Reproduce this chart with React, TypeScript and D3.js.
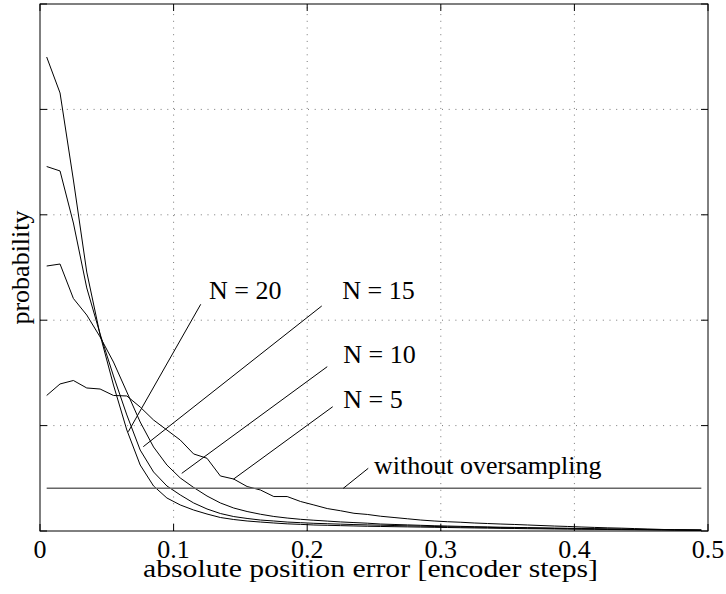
import React from 'react';
import * as d3 from 'd3';

// sample positions of the error histogram (encoder steps)
const errorBins = [
  0.005, 0.015, 0.025, 0.035, 0.045, 0.055, 0.065, 0.075, 0.085, 0.095,
  0.105, 0.115, 0.125, 0.135, 0.145, 0.155, 0.165, 0.175, 0.185, 0.195,
  0.205, 0.215, 0.225, 0.235, 0.245, 0.255, 0.265, 0.275, 0.285, 0.295,
  0.305, 0.315, 0.325, 0.335, 0.345, 0.355, 0.365, 0.375, 0.385, 0.395,
  0.405, 0.415, 0.425, 0.435, 0.445, 0.455, 0.465, 0.475, 0.485, 0.495,
];

// probability (arbitrary units, one grid step = 1)
const probN20 = [
  4.497, 4.156, 3.33, 2.457, 1.86, 1.385, 0.958, 0.626, 0.427, 0.313,
  0.247, 0.199, 0.161, 0.128, 0.109, 0.095, 0.085, 0.076, 0.068, 0.063,
  0.057, 0.054, 0.051, 0.048, 0.045, 0.043, 0.041, 0.039, 0.037, 0.035,
  0.033, 0.031, 0.029, 0.027, 0.025, 0.024, 0.022, 0.021, 0.019, 0.018,
  0.017, 0.016, 0.014, 0.013, 0.012, 0.011, 0.01, 0.009, 0.008, 0.007,
];
const probN15 = [
  3.458, 3.416, 2.922, 2.306, 1.869, 1.471, 1.101, 0.768, 0.56, 0.427,
  0.342, 0.266, 0.209, 0.166, 0.137, 0.119, 0.104, 0.095, 0.085, 0.079,
  0.073, 0.069, 0.065, 0.061, 0.058, 0.055, 0.052, 0.049, 0.046, 0.043,
  0.04, 0.038, 0.036, 0.034, 0.032, 0.03, 0.028, 0.026, 0.024, 0.022,
  0.02, 0.019, 0.017, 0.016, 0.014, 0.013, 0.012, 0.011, 0.01, 0.009,
];
const probN10 = [
  2.514, 2.533, 2.206, 2.049, 1.841, 1.603, 1.319, 1.034, 0.797, 0.626,
  0.503, 0.413, 0.332, 0.266, 0.218, 0.185, 0.159, 0.138, 0.123, 0.111,
  0.102, 0.094, 0.086, 0.08, 0.074, 0.066, 0.062, 0.058, 0.054, 0.05,
  0.047, 0.044, 0.041, 0.039, 0.036, 0.034, 0.032, 0.03, 0.028, 0.026,
  0.024, 0.022, 0.02, 0.018, 0.016, 0.014, 0.013, 0.012, 0.011, 0.01,
];
const probN5 = [
  1.286, 1.395, 1.428, 1.357, 1.347, 1.286, 1.281, 1.176, 1.053, 0.958,
  0.863, 0.731, 0.69, 0.522, 0.493, 0.422, 0.389, 0.327, 0.327, 0.28,
  0.247, 0.213, 0.192, 0.168, 0.157, 0.14, 0.128, 0.116, 0.104, 0.095,
  0.088, 0.083, 0.076, 0.071, 0.066, 0.062, 0.057, 0.052, 0.047, 0.043,
  0.038, 0.034, 0.03, 0.027, 0.023, 0.019, 0.015, 0.011, 0.008, 0.005,
];
const probNoOversampling = 0.405;

const xTicks = [0, 0.1, 0.2, 0.3, 0.4, 0.5];
const xTickLabels = ['0', '0.1', '0.2', '0.3', '0.4', '0.5'];
const yTicks = [0, 1, 2, 3, 4, 5];

// label text, text anchor (x, y) and leader line (from -> to) in data units
const labels = [
  { text: 'N = 20', tx: 0.1265, ty: 2.198, x1: 0.1203, y1: 2.151, x2: 0.0661, y2: 0.942 },
  { text: 'N = 15', tx: 0.2263, ty: 2.198, x1: 0.2109, y1: 2.135, x2: 0.0773, y2: 0.8 },
  { text: 'N = 10', tx: 0.227, ty: 1.597, x1: 0.215, y1: 1.559, x2: 0.1061, y2: 0.547 },
  { text: 'N = 5', tx: 0.227, ty: 1.164, x1: 0.2191, y1: 1.179, x2: 0.1447, y2: 0.491 },
  { text: 'without oversampling', tx: 0.25, ty: 0.541, x1: 0.2457, y1: 0.595, x2: 0.227, y2: 0.405 },
];

const W = 726;
const H = 594;
const margin = { left: 40, right: 18, top: 4, bottom: 63 };
const font = '"Liberation Serif", "Times New Roman", serif';

export default function App() {
  const x = d3.scaleLinear().domain([0, 0.5]).range([margin.left, W - margin.right]);
  const y = d3.scaleLinear().domain([0, 5]).range([H - margin.bottom, margin.top]);

  const line = d3
    .line<number>()
    .x((d, i) => x(errorBins[i]))
    .y((d) => y(d));

  const series = [probN20, probN15, probN10, probN5];
  const x0 = x(0), x1 = x(0.5), y0 = y(0), y1 = y(5);
  const tickLen = 7;

  return (
    <svg width={W} height={H} style={{ position: 'absolute', left: 0, top: 0 }} fontFamily={font}>
      <rect x={0} y={0} width={W} height={H} fill="#fff" />
      {/* grid */}
      {xTicks.slice(1, -1).map((t) => (
        <line key={'gx' + t} x1={x(t)} x2={x(t)} y1={y0} y2={y1} stroke="#777" strokeDasharray="1 5.7" />
      ))}
      {yTicks.slice(1, -1).map((t) => (
        <line key={'gy' + t} x1={x0} x2={x1} y1={y(t)} y2={y(t)} stroke="#777" strokeDasharray="1 5.7" />
      ))}

      {/* curves */}
      {series.map((s, i) => (
        <path key={'s' + i} d={line(s) || ''} fill="none" stroke="#000" strokeWidth={1} />
      ))}
      <line
        x1={x(errorBins[0])}
        x2={x(errorBins[errorBins.length - 1])}
        y1={y(probNoOversampling)}
        y2={y(probNoOversampling)}
        stroke="#666"
        strokeWidth={1.4}
      />

      {/* leaders and labels */}
      {labels.map((l) => (
        <g key={l.text}>
          <line x1={x(l.x1)} y1={y(l.y1)} x2={x(l.x2)} y2={y(l.y2)} stroke="#000" strokeWidth={1} />
          <text x={x(l.tx)} y={y(l.ty)} fontSize={26} fill="#000">
            {l.text}
          </text>
        </g>
      ))}

      {/* box and ticks */}
      <rect x={x0} y={y1} width={x1 - x0} height={y0 - y1} fill="none" stroke="#000" strokeWidth={1} />
      {xTicks.map((t) => (
        <g key={'tx' + t}>
          <line x1={x(t)} x2={x(t)} y1={y0} y2={y0 - tickLen} stroke="#000" />
          <line x1={x(t)} x2={x(t)} y1={y1} y2={y1 + tickLen} stroke="#000" />
        </g>
      ))}
      {yTicks.map((t) => (
        <g key={'ty' + t}>
          <line x1={x0} x2={x0 + tickLen} y1={y(t)} y2={y(t)} stroke="#000" />
          <line x1={x1} x2={x1 - tickLen} y1={y(t)} y2={y(t)} stroke="#000" />
        </g>
      ))}
      {xTicks.map((t, i) => (
        <text key={'lx' + t} x={x(t)} y={y0 + 27} fontSize={26} textAnchor="middle" fill="#000">
          {xTickLabels[i]}
        </text>
      ))}

      {/* axis titles */}
      <text
        x={143}
        y={y0 + 46}
        fontSize={26}
        textLength={455}
        lengthAdjust="spacingAndGlyphs"
        fill="#000"
      >
        absolute position error [encoder steps]
      </text>
      <text
        transform={`translate(29,${(y0 + y1) / 2}) rotate(-90)`}
        fontSize={26}
        textAnchor="middle"
        fill="#000"
      >
        probability
      </text>
    </svg>
  );
}
